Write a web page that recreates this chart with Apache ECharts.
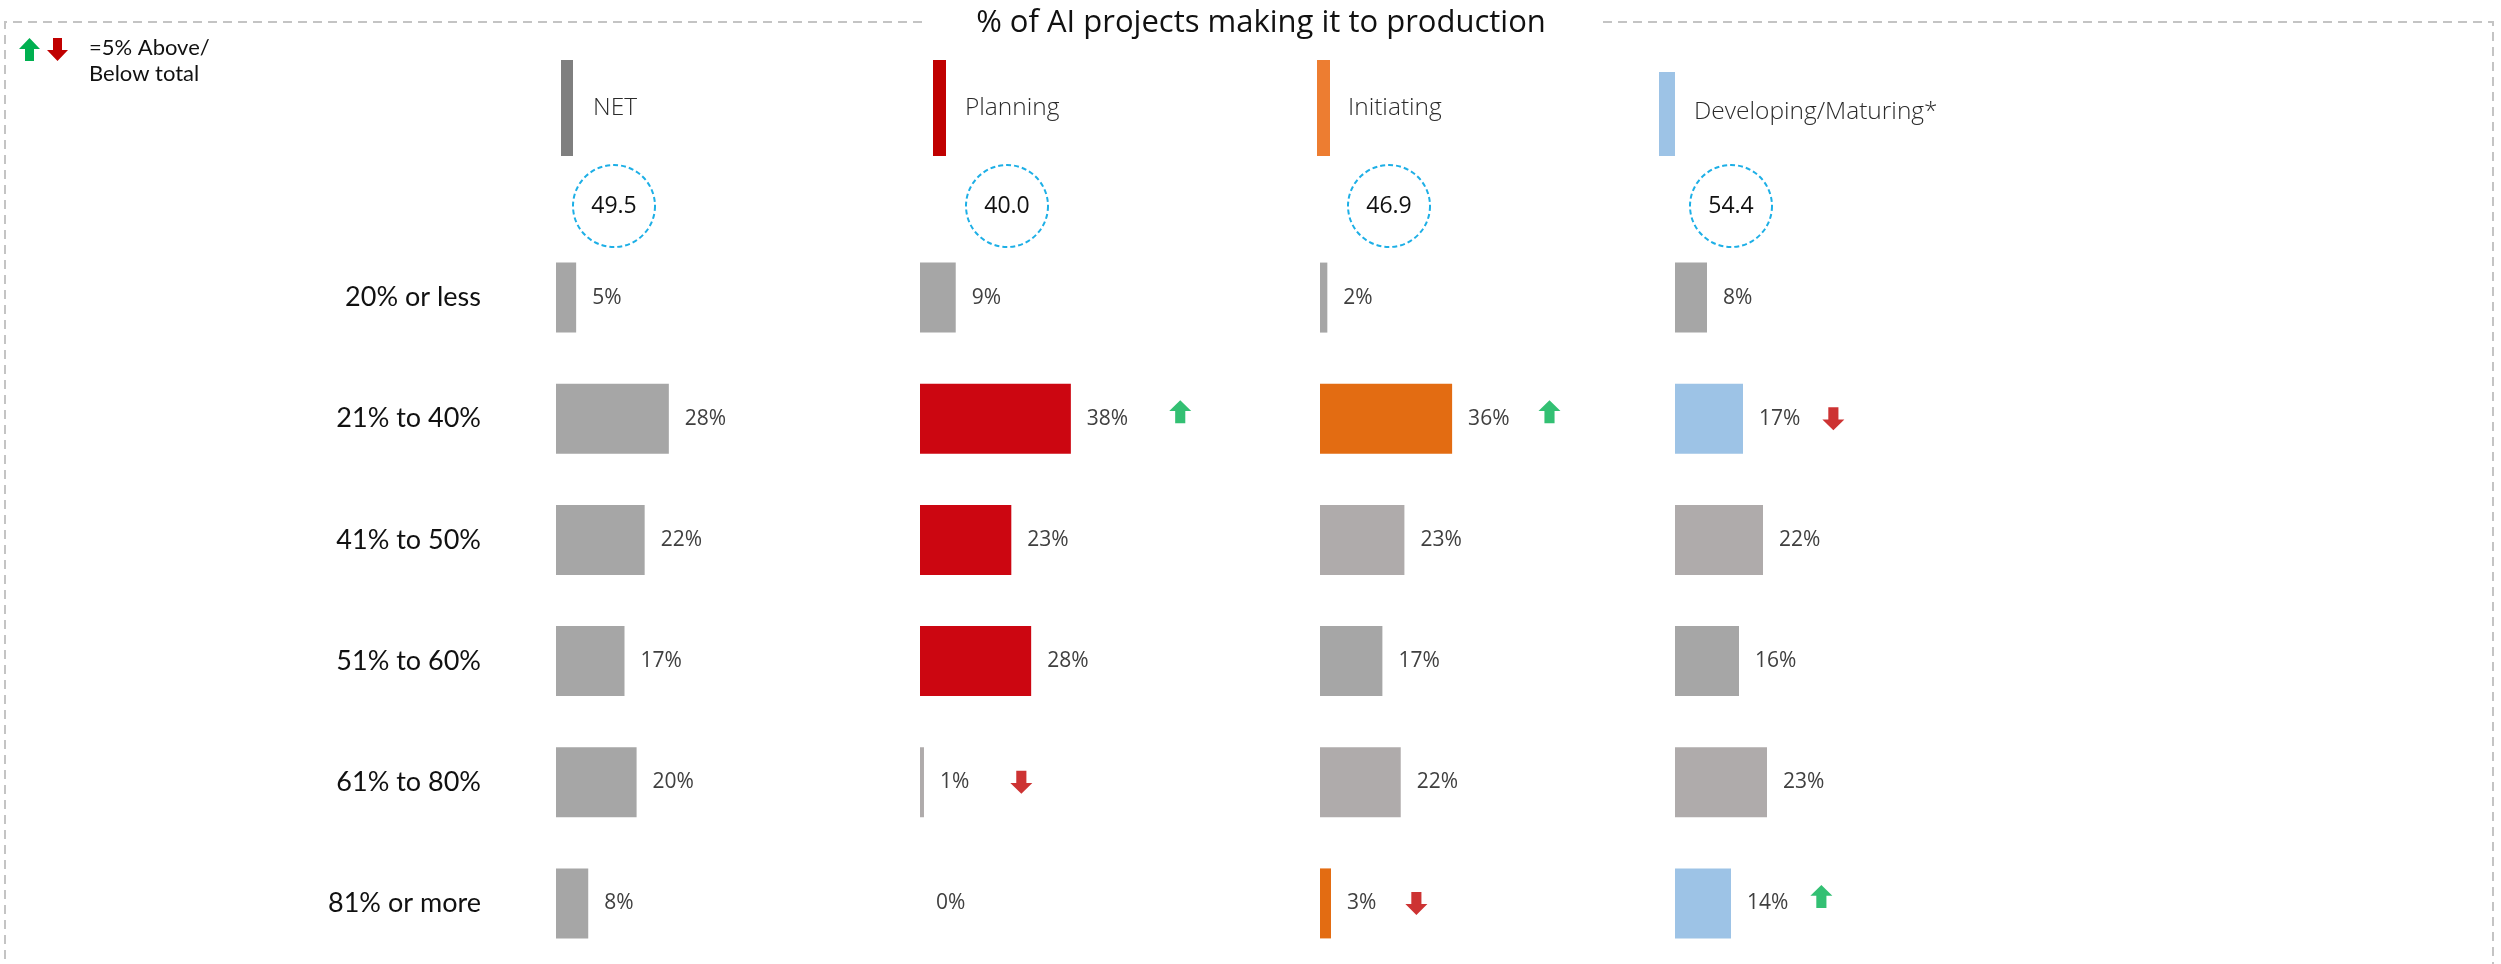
<!DOCTYPE html>
<html>
<head>
<meta charset="utf-8">
<title>% of AI projects making it to production</title>
<script src="https://cdn.jsdelivr.net/npm/echarts@6/dist/echarts.min.js"></script>
<style>
  html, body { margin: 0; padding: 0; background: #ffffff; }
  #chart { width: 2501px; height: 964px; }
</style>
</head>
<body>
<div id="chart"></div>
<script>
// ---- data ----
const categories = ['20% or less', '21% to 40%', '41% to 50%', '51% to 60%', '61% to 80%', '81% or more'];
const segments = ['NET', 'Planning', 'Initiating', 'Developing/Maturing*'];
const netValues = [5, 28, 22, 17, 20, 8];
const planningValues = [9, 38, 23, 28, 1, 0];
const initiatingValues = [2, 36, 23, 17, 22, 3];
const developingValues = [8, 17, 22, 16, 23, 14];
const meanScores = ['49.5', '40.0', '46.9', '54.4'];
// +1 = 5% above total, -1 = 5% below total
const netShifts = [0, 0, 0, 0, 0, 0];
const planningShifts = [0, 1, 0, 0, -1, 0];
const initiatingShifts = [0, 1, 0, 0, 0, -1];
const developingShifts = [0, -1, 0, 0, 0, 1];
const titleText = '% of AI projects making it to production';
const legendLines = ['=5% Above/', 'Below total'];

const panelValues = [netValues, planningValues, initiatingValues, developingValues];
const panelShifts = [netShifts, planningShifts, initiatingShifts, developingShifts];

// ---- styling ----
const GRAY = '#A6A6A6';
const WARM = '#AFABAB';
const UP_COLOR = '#00B050';
const DOWN_COLOR = '#C00000';
const barTones = [
  ['g', 'g', 'g', 'g', 'g', 'g'],
  ['g', 'c', 'c', 'c', 'w', 'w'],
  ['g', 'c', 'w', 'g', 'w', 'c'],
  ['g', 'c', 'w', 'g', 'w', 'c']
];
const panels = [
  { left: 556,  ppp: 4.03, accent: '#A6A6A6', head: '#7F7F7F', headX: 561,  headW: 12, headTop: 60, textX: 593,  textY: 108, circleX: 614,  arrowGap: 44 },
  { left: 920,  ppp: 3.97, accent: '#CC0611', head: '#C00000', headX: 933,  headW: 13, headTop: 60, textX: 965,  textY: 108, circleX: 1007, arrowGap: 52 },
  { left: 1320, ppp: 3.67, accent: '#E36C12', head: '#ED7D31', headX: 1317, headW: 13, headTop: 60, textX: 1348, textY: 108, circleX: 1389, arrowGap: 40 },
  { left: 1675, ppp: 4.00, accent: '#9DC3E6', head: '#9DC3E6', headX: 1659, headW: 16, headTop: 72, textX: 1694, textY: 112, circleX: 1731, arrowGap: 33 }
];
const GRID_TOP = 237;
const ROW_STEP = 122.8;
const LABEL_FONT = '"Open Sans", "Noto Sans", sans-serif';
const ROW_FONT = 'Lato, "Noto Sans", sans-serif';

const measureCtx = document.createElement('canvas').getContext('2d');
measureCtx.font = '21px ' + LABEL_FONT;
function textWidth(t) { return measureCtx.measureText(t).width; }

const UP_PATH = 'path://M5,0 L10,5.2 L7.3,5.2 L7.3,11 L2.7,11 L2.7,5.2 L0,5.2 Z';
const DOWN_PATH = 'path://M2.7,0 L7.3,0 L7.3,5.8 L10,5.8 L5,11 L0,5.8 L2.7,5.8 Z';

const grids = [], xAxes = [], yAxes = [], series = [];
panels.forEach((p, i) => {
  grids.push({ left: p.left, top: GRID_TOP, width: 100 * p.ppp, height: ROW_STEP * categories.length, containLabel: false });
  xAxes.push({ type: 'value', gridIndex: i, min: 0, max: 100, show: false });
  yAxes.push({
    type: 'category', gridIndex: i, data: categories, inverse: true,
    axisLine: { show: false }, axisTick: { show: false }, splitLine: { show: false },
    axisLabel: i === 0 ? { show: true, margin: 75, fontSize: 27, color: '#111111', fontFamily: ROW_FONT } : { show: false }
  });
  const vals = panelValues[i];
  series.push({
    type: 'bar', name: segments[i], xAxisIndex: i, yAxisIndex: i, barWidth: 70,
    data: vals.map((v, k) => ({
      value: v,
      itemStyle: { color: barTones[i][k] === 'c' ? p.accent : (barTones[i][k] === 'w' ? WARM : GRAY) }
    })),
    label: {
      show: true, position: 'right', distance: 16,
      formatter: (d) => d.value + '%',
      fontSize: 21, color: '#404040', fontFamily: LABEL_FONT
    },
    silent: true, animation: false
  });
  const shifts = panelShifts[i];
  const arrows = [];
  shifts.forEach((s, k) => {
    if (!s) return;
    const w = textWidth(vals[k] + '%');
    arrows.push({
      value: [vals[k], categories[k]],
      symbol: s > 0 ? UP_PATH : DOWN_PATH,
      symbolOffset: [16 + w + p.arrowGap, s > 0 ? -7 : 0],
      itemStyle: { color: s > 0 ? UP_COLOR : DOWN_COLOR }
    });
  });
  series.push({
    type: 'scatter', xAxisIndex: i, yAxisIndex: i, data: arrows,
    symbolSize: [22, 23], silent: true, animation: false, clip: false, z: 5
  });
});

// ---- decorations: frame, title, legend, segment headers, mean circles ----
const graphic = [];
const frameStyle = { stroke: '#C4C4C4', lineWidth: 2, lineDash: [9, 6], fill: null };
graphic.push({ type: 'polyline', shape: { points: [[922, 22], [5, 22], [5, 980]] }, style: frameStyle, silent: true });
graphic.push({ type: 'polyline', shape: { points: [[1603, 22], [2493, 22], [2493, 980]] }, style: frameStyle, silent: true });
graphic.push({
  type: 'text', x: 1261, y: 23,
  style: { text: titleText, font: '31px ' + LABEL_FONT, fill: '#111111', align: 'center', verticalAlign: 'middle' }
});
// legend arrows and text
graphic.push({ type: 'polygon', shape: { points: [[29.5, 38], [40, 49], [34, 49], [34, 61], [25, 61], [25, 49], [19, 49]] }, style: { fill: UP_COLOR } });
graphic.push({ type: 'polygon', shape: { points: [[53, 38], [62, 38], [62, 50], [68, 50], [57.5, 61], [47, 50], [53, 50]] }, style: { fill: DOWN_COLOR } });
legendLines.forEach((t, k) => {
  graphic.push({ type: 'text', x: 89, y: 48 + k * 26, style: { text: t, font: '22px ' + ROW_FONT, fill: '#111111', verticalAlign: 'middle' } });
});
panels.forEach((p, i) => {
  graphic.push({ type: 'rect', shape: { x: p.headX, y: p.headTop, width: p.headW, height: 156 - p.headTop }, style: { fill: p.head } });
  graphic.push({ type: 'text', x: p.textX, y: p.textY, style: { text: segments[i], font: '300 24.5px ' + LABEL_FONT, fill: '#2b2b2b', verticalAlign: 'middle' } });
  graphic.push({ type: 'circle', shape: { cx: p.circleX, cy: 206, r: 41 }, style: { fill: null, stroke: '#1DAFE6', lineWidth: 2, lineDash: [5, 3] } });
  graphic.push({ type: 'text', x: p.circleX, y: 206, style: { text: meanScores[i], font: '23px ' + LABEL_FONT, fill: '#111111', align: 'center', verticalAlign: 'middle' } });
});

const chart = echarts.init(document.getElementById('chart'), null, { renderer: 'canvas' });
chart.setOption({
  backgroundColor: '#ffffff',
  animation: false,
  grid: grids,
  xAxis: xAxes,
  yAxis: yAxes,
  series: series,
  graphic: graphic
});
</script>
</body>
</html>
